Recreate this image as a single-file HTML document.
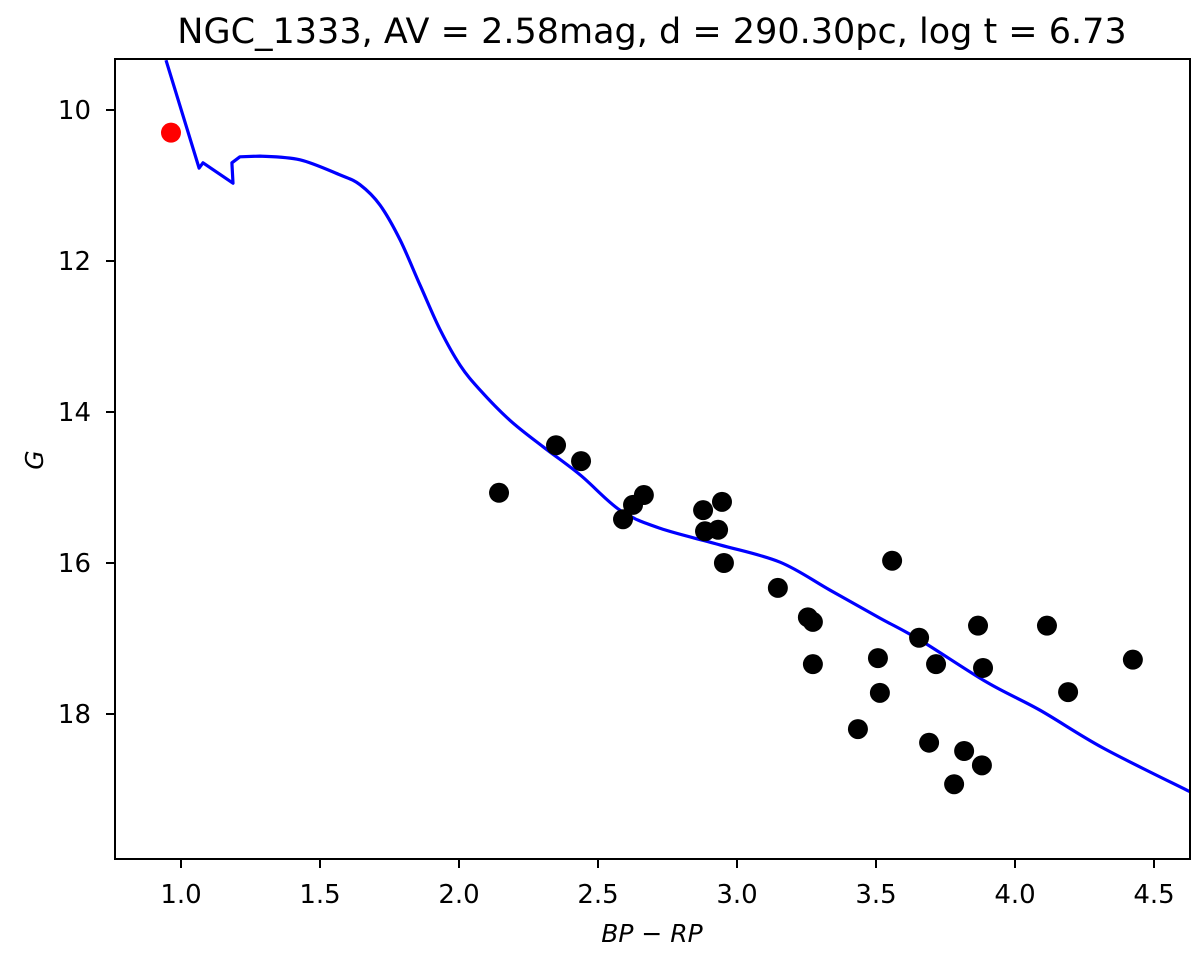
<!DOCTYPE html>
<html><head><meta charset="utf-8"><style>
body{margin:0;background:#fff;}
svg{display:block;font-family:"DejaVu Sans","Liberation Sans",sans-serif;}
</style></head><body>
<svg id="chart" width="1200" height="955" viewBox="0 0 1200 955">
<rect width="1200" height="955" fill="#fff"/>
<text x="652" y="43" font-size="35" text-anchor="middle" fill="#000">NGC_1333, AV = 2.58mag, d = 290.30pc, log t = 6.73</text>
<g id="plot"></g>
<text x="652" y="942" font-size="25" text-anchor="middle" font-style="italic">BP − RP</text>
<text x="0" y="0" font-size="25" text-anchor="middle" font-style="italic" transform="translate(43,460) rotate(-90)">G</text>
</svg>
<script>
const xTicks=[1.0,1.5,2.0,2.5,3.0,3.5,4.0,4.5];
const yTicks=[10,12,14,16,18];
const starBP=[2.144,2.349,2.439,2.590,2.626,2.665,2.878,2.885,2.932,2.946,2.953,3.147,3.255,3.273,3.273,3.558,3.655,3.507,3.716,3.867,3.885,4.115,4.424,4.191,3.514,3.435,3.691,3.817,3.881,3.781];
const starG=[15.07,14.44,14.65,15.42,15.23,15.10,15.30,15.58,15.56,15.19,16.00,16.33,16.72,16.78,17.34,15.97,16.99,17.26,17.34,16.83,17.39,16.83,17.28,17.71,17.72,18.20,18.38,18.49,18.68,18.93];
const highlightBP=[0.964];
const highlightG=[10.30];
const isoBP=[0.946,1.065,1.079,1.187,1.183,1.212,1.284,1.428,1.572,1.644,1.716,1.788,1.860,1.932,2.004,2.076,2.183,2.302,2.435,2.579,2.723,2.939,3.155,3.335,3.514,3.658,3.899,4.090,4.317,4.630];
const isoG=[9.34,10.77,10.70,10.97,10.70,10.62,10.61,10.66,10.86,10.99,11.26,11.72,12.32,12.91,13.38,13.71,14.11,14.46,14.83,15.30,15.54,15.76,15.99,16.36,16.73,17.02,17.58,17.95,18.45,19.03];

const L=115,R=1190,T=59,B=859;
const x0=3.0,xp0=737,xs=278;
const y0=10,yp0=110,ys=75.5;
function X(v){return xp0+(v-x0)*xs;}
function Y(v){return yp0+(v-y0)*ys;}
const NS="http://www.w3.org/2000/svg";
const g=document.getElementById('plot');
function mk(t,a){const e=document.createElementNS(NS,t);for(const k in a)e.setAttribute(k,a[k]);g.appendChild(e);return e;}
const cp=document.createElementNS(NS,'clipPath');cp.setAttribute('id','clip');
const cr=document.createElementNS(NS,'rect');cr.setAttribute('x',L);cr.setAttribute('y',T);cr.setAttribute('width',R-L);cr.setAttribute('height',B-T);cp.appendChild(cr);g.appendChild(cp);

// smooth (Catmull-Rom) path through points after the hook; sharp segments before index 6
const P=isoBP.map((v,i)=>[X(v),Y(isoG[i])]);
let d='M'+P[0][0].toFixed(1)+','+P[0][1].toFixed(1);
for(let i=1;i<P.length;i++){
  if(i<=6){d+='L'+P[i][0].toFixed(1)+','+P[i][1].toFixed(1);continue;}
  const p0=P[i-2],p1=P[i-1],p2=P[i],p3=P[Math.min(i+1,P.length-1)];
  const c1=[p1[0]+(p2[0]-p0[0])/6,p1[1]+(p2[1]-p0[1])/6];
  const c2=[p2[0]-(p3[0]-p1[0])/6,p2[1]-(p3[1]-p1[1])/6];
  d+='C'+c1.map(n=>n.toFixed(1)).join(',')+' '+c2.map(n=>n.toFixed(1)).join(',')+' '+p2.map(n=>n.toFixed(1)).join(',');
}
const line=mk('path',{d:d,fill:'none',stroke:'#0000ff','stroke-width':3.2,'clip-path':'url(#clip)','stroke-linejoin':'round'});



starBP.forEach((v,i)=>{
  const c=mk('circle',{cx:X(v),cy:Y(starG[i]),r:10,fill:'#000'});
  
  
});
highlightBP.forEach((v,i)=>{
  const c=mk('circle',{cx:X(v),cy:Y(highlightG[i]),r:10,fill:'#ff0000'});
  
  
});

const frame=mk('rect',{x:L,y:T,width:R-L,height:B-T,fill:'none',stroke:'#000','stroke-width':2});



xTicks.forEach(v=>{
  const t=mk('line',{x1:X(v),x2:X(v),y1:B,y2:B+9,stroke:'#000','stroke-width':2});
  
  
  const l=mk('text',{x:X(v),y:B+44,'font-size':26,'text-anchor':'middle',fill:'#000'});
  l.textContent=v.toFixed(1);
  
  
});
yTicks.forEach(v=>{
  const t=mk('line',{x1:L-9,x2:L,y1:Y(v),y2:Y(v),stroke:'#000','stroke-width':2});
  
  
  const l=mk('text',{x:L-24,y:Y(v)+9,'font-size':26,'text-anchor':'end',fill:'#000'});
  l.textContent=String(v);
  
  
});
</script>
</body></html>
